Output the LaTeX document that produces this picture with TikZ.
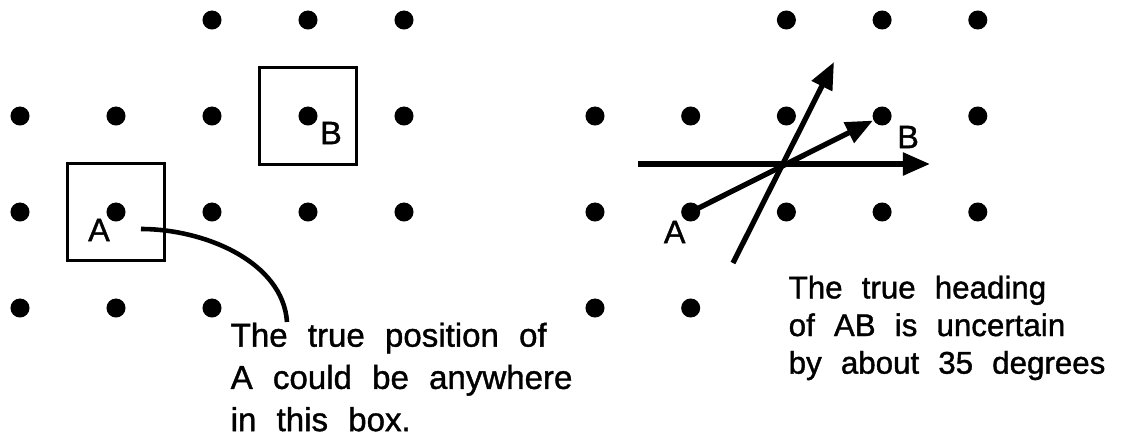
\documentclass[tikz,border=0pt]{standalone}
\usepackage{fontspec}
\setmainfont{Liberation Sans}[WordSpace=2.2, FakeBold=1.2]
\usepackage{tikz}
\usetikzlibrary{positioning,calc,arrows.meta}

\tikzset{
  dot/.style={circle, fill=black, inner sep=0pt, minimum size=0.19cm},
  posbox/.style={draw, line width=1.1pt, inner sep=0pt, minimum size=0.97cm},
  lbl/.style={inner sep=0pt, font=\fontsize{9.2pt}{11pt}\selectfont},
  note/.style={inner sep=0pt, align=left, anchor=north west},
  heading/.style={line width=1.5pt, -{Triangle[length=0.27cm, width=0.22cm]}}
}

\begin{document}
\begin{tikzpicture}[x=0.01cm, y=-0.01cm]
\useasboundingbox (0,0) rectangle (1123,433);

% left grid: position uncertainty
\foreach \c/\r in {2/0,3/0,4/0,0/1,1/1,2/1,3/1,4/1,0/2,1/2,2/2,3/2,4/2,0/3,1/3,2/3}
  \node[dot] (l-\c-\r) at ({20+96*\c},{20+96*\r}) {};

\node[posbox] (boxA) at (l-1-2) {};
\node[posbox] (boxB) at (l-3-1) {};
\node[lbl] (labA) at ($(l-1-2)+(-17,18)$) {A};
\node[lbl] (labB) at ($(l-3-1)+(23,17)$) {B};

\coordinate (lead) at (141,229);
\coordinate (leadEnd) at (287,322);
\draw[line width=1.3pt] (lead) .. controls (205,229) and (283,262) .. (leadEnd);

\node[note, font=\fontsize{9.4pt}{12pt}\selectfont] (posText) at (230,322)
  {The true position of\\A could be anywhere\\in this box.};

% right grid: heading uncertainty
\foreach \c/\r in {2/0,3/0,4/0,0/1,1/1,2/1,3/1,4/1,0/2,1/2,2/2,3/2,4/2,0/3,1/3}
  \node[dot] (r-\c-\r) at ({595+95.7*\c},{20+96*\r}) {};

\node[lbl] (labA2) at ($(r-1-2)+(-16,20)$) {A};
\node[lbl] (labB2) at ($(r-3-1)+(26,21)$) {B};

\coordinate (hL) at (638,164);
\coordinate (hR) at (930,164);
\coordinate (sL) at (733,263);
\coordinate (sR) at (834,62);
\draw[heading] (hL) -- (hR);
\draw[heading] (sL) -- (sR);
\draw[heading] (r-1-2.center) -- (r-3-1);

\node[note, font=\fontsize{8.9pt}{10.7pt}\selectfont] (headText) at (788,275)
  {The true heading\\of AB is uncertain\\by about 35 degrees};
\end{tikzpicture}
\end{document}
